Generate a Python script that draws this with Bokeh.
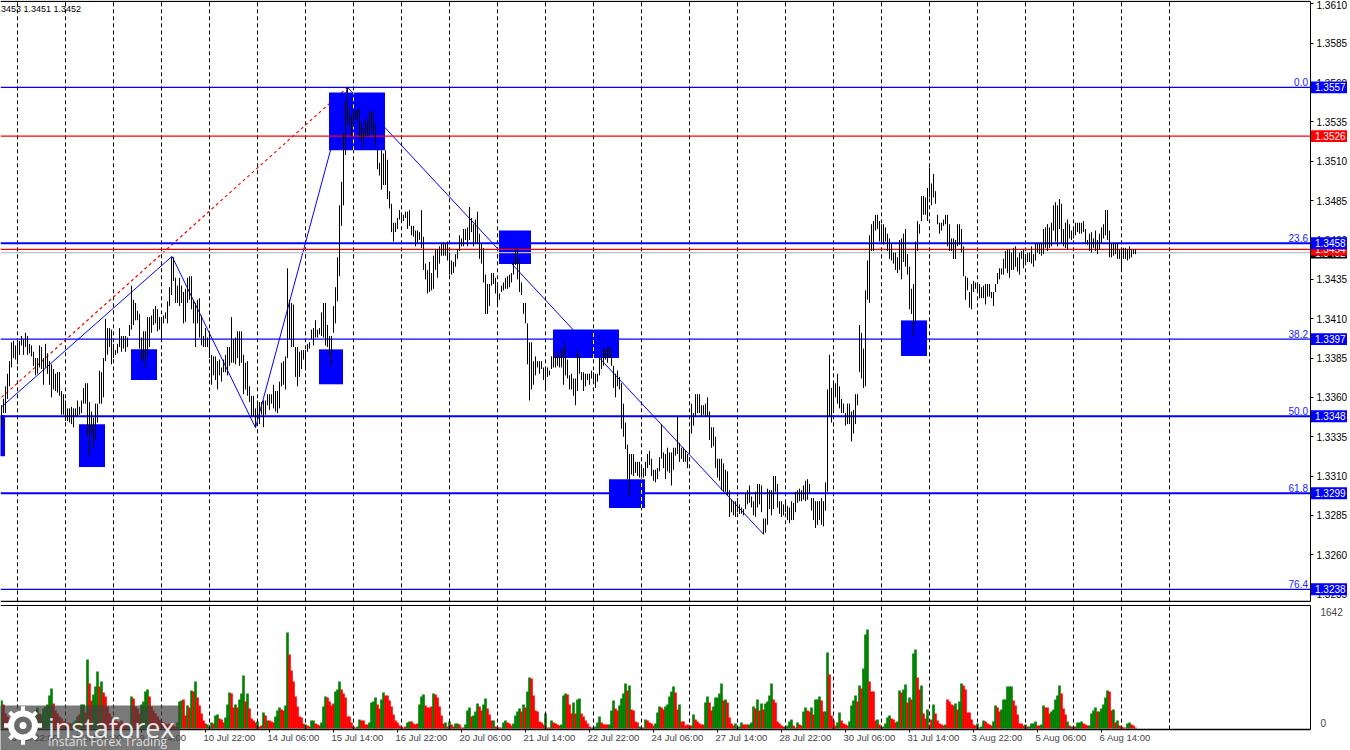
from bokeh.plotting import figure
from bokeh.layouts import column
from bokeh.models import Range1d, LinearAxis, FixedTicker, Label
from bokeh.core.properties import value
from bokeh.embed import file_html
from bokeh.resources import INLINE

# ---- hourly bars: highs and lows in pips above 1.3000
high_pips = [
355,359,367,375,383,395,396,393,395,396,399,397,401,399,394,393,389,385,385,393,392,385,394,388,383,381,378,375,376,376,
364,362,358,353,353,354,353,353,358,354,358,366,369,369,357,351,347,356,356,377,376,385,410,404,404,403,394,390,394,404,
399,399,399,398,406,431,422,420,415,413,398,402,402,411,411,412,416,418,416,411,411,412,414,421,
430,449,449,436,431,436,431,427,429,436,437,437,422,420,422,423,412,399,404,398,401,
387,386,386,383,384,379,384,387,392,392,411,397,398,402,402,402,387,382,383,367,361,361,353,358,357,357,358,358,362,362,362,
368,364,364,370,382,383,386,442,422,420,419,392,392,389,390,390,390,394,395,403,404,409,403,404,414,420,420,406,399,399,418,430,449,
482,497,528,548,557,544,539,543,542,543,544,535,531,537,536,541,542,542,534,518,509,517,515,517,511,491,483,471,471,474,479,477,476,478,478,479,
469,469,466,466,465,479,462,445,441,446,439,450,454,454,456,458,458,458,459,452,
447,446,451,454,463,461,467,467,468,481,474,470,473,478,464,458,455,438,432,432,439,439,436,433,426,431,433,436,437,438,439,446,454,455,448,433,420,420,407,395,395,
383,386,383,383,383,379,378,379,377,386,389,386,389,386,391,391,395,384,374,375,372,372,390,388,376,376,375,375,375,377,376,375,375,386,385,391,391,392,392,391,380,375,377,373,
369,356,344,330,324,324,324,319,319,319,317,315,319,324,326,321,314,314,315,322,343,325,324,328,325,325,328,328,348,331,328,328,326,324,338,356,350,362,362,362,355,355,356,360,351,341,341,335,
321,321,321,318,314,313,301,295,294,294,296,292,290,289,299,301,304,297,294,300,305,305,304,283,283,302,301,301,310,310,305,294,294,292,293,291,290,294,293,300,301,302,301,304,307,308,305,296,296,294,294,294,296,294,306,
365,387,366,369,369,375,367,359,356,350,356,
356,351,352,362,362,406,401,391,428,447,463,470,472,476,476,472,470,470,468,464,461,458,452,452,449,460,461,464,467,451,443,429,432,459,472,470,488,488,487,493,506,496,502,491,476,471,471,473,476,476,470,461,461,460,470,470,467,456,437,436,427,432,434,433,432,432,430,431,432,432,432,427,427,432,439,442,442,448,453,454,454,452,455,456,449,452,453,454,451,452,452,456,451,458,458,458,458,467,468,470,468,471,482,484,482,486,483,467,471,473,470,466,467,471,471,471,471,472,467,460,464,465,461,466,460,464,468,470,479,479,466,458,458,458,458,454,455,455,455,454,456,454,454,454]
low_pips = [
341,350,350,359,367,379,385,384,381,387,393,387,392,387,388,386,380,374,375,379,378,368,379,375,368,360,365,364,363,361,
349,349,345,345,344,343,341,348,348,349,350,356,356,336,322,337,328,333,344,356,356,360,383,387,392,381,385,387,388,392,
389,391,389,392,399,403,406,409,409,391,383,384,379,385,392,401,406,407,402,403,397,407,410,407,
418,425,434,420,420,418,420,407,408,420,422,416,407,392,407,398,393,392,392,392,385,
368,374,371,365,374,370,376,376,374,380,382,382,381,385,380,382,362,365,361,357,348,348,341,347,343,349,341,349,355,352,356,
353,351,350,353,367,368,365,385,397,392,392,373,367,373,378,384,378,389,391,397,393,398,398,400,399,398,393,392,387,380,401,407,421,
437,469,482,514,533,533,526,532,536,536,526,523,519,526,526,526,529,527,519,505,501,492,495,495,486,480,465,459,465,467,473,472,472,474,467,469,
463,462,456,458,460,455,441,435,426,427,428,429,441,436,445,450,450,450,447,438,
438,439,443,448,453,456,456,460,456,460,465,456,458,458,448,445,433,413,413,418,431,432,426,419,422,427,428,429,429,430,433,438,444,435,427,425,413,407,381,358,365,
368,374,379,375,378,371,365,373,374,378,379,379,380,379,379,368,374,372,365,365,361,355,364,375,371,364,367,371,368,372,371,366,370,374,378,380,384,382,385,380,366,360,367,365,
340,335,327,308,297,311,310,312,310,309,309,309,310,315,317,310,307,306,308,313,321,315,308,313,312,304,314,323,324,319,321,319,319,315,325,337,342,348,350,350,348,349,348,348,333,328,329,315,
309,307,301,300,300,298,284,287,285,284,287,286,286,285,289,292,293,290,285,284,290,292,287,273,274,279,289,285,289,300,290,286,284,285,287,282,280,282,282,287,293,294,294,295,294,295,299,288,282,277,279,282,279,278,288,
300,348,344,350,360,356,353,350,350,342,343,
343,332,337,343,355,376,372,366,367,422,420,453,453,466,467,459,459,457,459,453,448,447,445,441,439,441,435,446,443,438,416,413,399,407,453,464,472,476,476,472,487,482,487,483,470,464,466,469,470,456,453,453,448,448,456,457,452,437,422,428,417,416,427,429,428,423,423,423,419,424,424,423,418,427,432,435,438,438,442,439,436,441,441,443,440,438,448,442,446,446,446,445,443,447,452,451,450,451,455,453,455,456,466,459,456,467,458,456,455,454,461,460,461,463,465,464,464,465,458,457,453,452,455,453,451,454,458,461,463,460,449,449,450,451,448,448,442,448,448,447,448,449,451,451]

# ---- tick volumes: positive on a rising bar, negative on a falling bar
signed_volumes = [
374,-320,-200,-160,-134,-107,-80,-67,53,-53,-40,-40,67,53,93,120,187,240,280,-200,187,267,294,320,441,534,-334,-240,-200,-160,
-134,-93,-80,-80,-67,-67,80,107,160,-187,320,320,-214,921,-601,-374,454,561,761,-561,627,-481,-427,-294,-200,-160,-134,-107,-93,-80,
-107,-67,-53,-53,40,427,-401,-294,-267,-200,320,360,494,521,-427,-294,-240,-200,-160,-120,-93,-80,-67,-53,-67,-53,-40,-27,80,360,
374,-387,-174,307,-280,507,-494,627,-414,-307,-200,-107,-67,53,-13,80,-67,174,187,-134,-120,-80,147,320,481,-467,-280,320,-280,387,467,708,-360,467,-267,-134,-107,-80,93,-27,
-40,214,-174,107,-107,-93,-80,160,240,280,-254,-240,307,1282,-988,-774,-627,-427,-294,-160,-147,-67,53,-40,-27,107,107,-67,-53,-40,80,294,427,-414,-360,-307,-334,494,521,627,
-521,-467,-414,-160,-160,-80,-27,-13,27,120,-107,-107,-53,-53,80,347,360,414,-320,-267,387,481,-441,-441,-374,-294,-187,-107,-80,-40,-27,-13,-27,80,93,-93,-67,-53,-67,320,
427,454,-307,-280,-280,-294,467,-454,-414,-294,-174,-67,80,-27,93,
-53,-27,67,67,-53,-13,-13,53,240,280,-160,174,227,334,-294,-240,320,401,-267,-187,-107,107,-27,-13,-13,-13,80,107,-80,-67,-40,67,174,227,267,-227,320,-280,494,681,-668,-441,-240,-227,-93,-80,-53,200,-13,-13,
107,-80,-67,-53,-40,53,441,467,-454,-320,-200,347,-200,387,401,-200,-160,-107,-67,-27,-13,13,27,80,160,-80,-53,-53,-53,53,240,374,-267,-240,307,401,467,601,-507,574,-254,-240,-93,-80,27,-13,-13,
120,-107,-80,-67,-40,67,214,294,-280,-254,294,320,427,494,561,-481,-254,320,-93,-93,-40,-53,-40,-40,187,-120,-93,-67,-53,-53,347,427,-347,-240,294,414,414,467,601,-374,387,-347,-147,-67,-40,67,-13,27,80,-53,-53,-53,53,80,294,-267,387,-240,334,-254,334,360,441,601,-387,-347,-93,-67,-40,-27,27,40,93,120,-40,-13,80,-53,
-40,227,280,-240,-227,280,-187,387,387,427,-374,-227,227,1015,-721,-174,-107,-40,80,214,-107,-67,-53,-40,93,307,374,441,-360,574,-534,801,1255,1322,-627,-494,-494,-107,120,-53,-13,27,67,147,174,-134,-120,-80,93,507,-481,521,587,-347,414,-387,1001,1055,-681,-521,574,-200,-134,254,-53,-120,320,-200,-107,-67,-53,-40,53,-387,-360,-320,-307,334,-254,360,601,-574,-521,-214,-214,-120,-53,-40,67,-13,27,107,-93,-67,-53,-40,93,307,-280,-227,254,387,387,561,561,561,-374,-307,-187,-67,-67,-40,53,-27,27,67,67,93,-40,-40,53,307,-280,-280,-200,227,254,387,441,574,-467,-267,-187,93,-40,27,-27,-27,80,80,93,-67,-53,-40,40,200,240,280,-227,227,267,320,414,507,-494,-240,254,-80,107,-40,-27,-13,-13,67,80,-53,-40,-13]

if not (len(high_pips) == len(low_pips) == len(signed_volumes) == 568):
    raise SystemExit(f"lengths {len(high_pips)} {len(low_pips)} {len(signed_volumes)}")

# ---- levels
fib_levels = [1.3557, 1.3458, 1.3397, 1.3348, 1.3299, 1.3238]
fib_names = ["0.0", "23.6", "38.2", "50.0", "61.8", "76.4"]
fib_widths = [1.2, 2, 1.2, 2, 2, 1.2]
red_level = 1.3526
ask_level = 1.3454
bid_level = 1.3452

# ---- wave lines: bar number, price
wave_bars = [0, 85.25, 127, 173, 381]
wave_prices = [1.33539, 1.34496, 1.33407, 1.3557, 1.3273]
fib_anchor_bars = [0, 173]
fib_anchor_prices = [1.3360, 1.3557]

# ---- blue zones: first bar, last bar, upper price, lower price
zone_first = [-1, 38.75, 64.75, 158.75, 163.75, 248.75, 275.75, 303.75, 449.75]
zone_last = [1.75, 51.75, 77.75, 170.75, 191.75, 264.75, 308.75, 321.75, 462.75]
zone_top = [1.33486, 1.33429, 1.33905, 1.33905, 1.35538, 1.34661, 1.34032, 1.33079, 1.34089]
zone_bottom = [1.33225, 1.33157, 1.33710, 1.33683, 1.35170, 1.34447, 1.33850, 1.32897, 1.33863]
# grid lines that cross a zone show up yellow there
cross_bars = [176, 296, 320]
cross_top = [1.35538, 1.34032, 1.33079]
cross_bottom = [1.35170, 1.33850, 1.32897]

# ---- axes
price_ticks = [1.3610, 1.3585, 1.3560, 1.3535, 1.3510, 1.3485, 1.3460, 1.3435, 1.3410,
               1.3385, 1.3360, 1.3335, 1.3310, 1.3285, 1.3260, 1.3235]
grid_bars = list(range(8, 585, 24))
date_tick_bars = list(range(6, 556, 32))
date_labels = ["6 Jul 22:00", "8 Jul 06:00", "9 Jul 14:00", "10 Jul 22:00", "14 Jul 06:00", "15 Jul 14:00",
               "16 Jul 22:00", "20 Jul 06:00", "21 Jul 14:00", "22 Jul 22:00", "24 Jul 06:00", "27 Jul 14:00",
               "28 Jul 22:00", "30 Jul 06:00", "31 Jul 14:00", "3 Aug 22:00", "5 Aug 06:00", "6 Aug 14:00"]
ohlc_text = "1.3453 1.3451 1.3452"

FONT = "Liberation Sans"
BLUE, RED, GREEN = "#0000ff", "#ff0000", "#008000"
XS, XAXIS, XE = -0.5, 654.5, 674.5
YS, YE = 1.32290, 1.36122
YBOT, YTOP = 1.32304, 1.36116
bars = list(range(len(high_pips)))

p1 = figure(width=1350, height=603, x_range=Range1d(XS, XE), y_range=Range1d(YS, YE),
            x_axis_type=None, y_axis_type=None, output_backend="svg", toolbar_location=None,
            min_border_left=0, min_border_right=0, min_border_top=0, min_border_bottom=0,
            background_fill_color="white", border_fill_color="white", outline_line_color=None)
p1.grid.visible = False

right = LinearAxis(fixed_location=XAXIS, bounds=(YBOT, YTOP), ticker=FixedTicker(ticks=price_ticks),
                   major_label_overrides={t: f"{t:.4f}" for t in price_ticks},
                   major_tick_out=3, major_tick_in=0, minor_tick_line_color=None, major_label_standoff=3,
                   major_label_text_font=FONT, major_label_text_font_size="10px", major_label_text_color="black",
                   axis_line_color="black")
p1.add_layout(right, "right")

p1.segment(grid_bars, [YBOT] * len(grid_bars), grid_bars, [YTOP] * len(grid_bars), line_color="black", line_width=1, line_dash="4 3")
p1.line(fib_anchor_bars, fib_anchor_prices, line_color=RED, line_width=1.2, line_dash="3 3")
p1.line(wave_bars, wave_prices, line_color=BLUE, line_width=1)
p1.segment([XS] * 6, fib_levels, [XAXIS] * 6, fib_levels, line_color=BLUE, line_width=fib_widths)
p1.quad(left=zone_first, right=zone_last, top=zone_top, bottom=zone_bottom, fill_color=BLUE, line_color=None)
p1.segment(cross_bars, cross_bottom, cross_bars, cross_top, line_color="#ffff00", line_width=1, line_dash="4 3")
p1.segment([XS], [bid_level], [XAXIS], [bid_level], line_color="#c0c0c0", line_width=1.2)
p1.segment([XS], [ask_level], [XAXIS], [ask_level], line_color=RED, line_width=1.2)
p1.segment([XS], [red_level], [XAXIS], [red_level], line_color=RED, line_width=1.2)
p1.segment(bars, [1.3 + v / 1e4 for v in low_pips], bars, [1.3 + v / 1e4 for v in high_pips], line_color="black", line_width=1)
p1.segment([XS, XS], [YBOT, YTOP], [XAXIS, XAXIS], [YBOT, YTOP], line_color="black", line_width=1.2)
p1.text([653.25] * 6, fib_levels, fib_names, text_color="#2020ff", text_align="right", text_baseline="bottom",
        y_offset=-1, text_font=value(FONT), text_font_size=value("10px"))


def price_box(price, color):
    p1.quad(left=[654.75], right=[672.75], top=[price + 0.00038], bottom=[price - 0.00038], fill_color=color,
            line_color=None, level="overlay")
    p1.text([656.75], [price], [f"{price:.4f}"], text_color="white", text_align="left", text_baseline="middle",
            text_font=value(FONT), text_font_size=value("10px"), level="overlay")


price_box(bid_level, "black")
price_box(ask_level, RED)
price_box(red_level, RED)
for lv in fib_levels:
    price_box(lv, BLUE)

p1.add_layout(Label(x=39.75, y=1.36066, text=ohlc_text, text_align="right", text_baseline="middle",
                    text_font=FONT, text_font_size="9px", text_color="black"))

# ---- volume pane
VS, VE = -294, 1669
TOP, BASE = 1642, -13
p2 = figure(width=1350, height=147, x_range=Range1d(XS, XE), y_range=Range1d(VS, VE),
            x_axis_type=None, y_axis_type=None, output_backend="svg", toolbar_location=None,
            min_border_left=0, min_border_right=0, min_border_top=0, min_border_bottom=0,
            background_fill_color="white", border_fill_color="white", outline_line_color=None)
p2.grid.visible = False

p2.vbar(x=bars, top=[abs(v) for v in signed_volumes], bottom=0, width=1.3, line_color=None,
        fill_color=[GREEN if v > 0 else RED for v in signed_volumes])
p2.segment(grid_bars, [BASE] * len(grid_bars), grid_bars, [TOP] * len(grid_bars), line_color="black", line_width=1, line_dash="4 3")
p2.segment([XS], [TOP], [XAXIS], [TOP], line_color="black", line_width=1.2)

vol_right = LinearAxis(fixed_location=XAXIS, ticker=FixedTicker(ticks=[1555, 70]), major_label_overrides={1555: "1642", 70: "0"},
                       major_tick_line_color=None, minor_tick_line_color=None, major_label_standoff=4,
                       major_label_text_font=FONT, major_label_text_font_size="10px", axis_line_color="black", bounds=(BASE, TOP))
p2.add_layout(vol_right, "right")


def text_em(s):
    w = {"J": .5, "u": .556, "l": .222, "A": .667, "g": .556, " ": .278, ":": .278}
    return sum(w.get(c, .556) for c in s)


label_centres = [round(b - 1 + text_em(s) * 9.5 / 4, 2) for b, s in zip(date_tick_bars, date_labels)]
bottom = LinearAxis(fixed_location=BASE, bounds=(XS, XAXIS), ticker=FixedTicker(ticks=label_centres, minor_ticks=date_tick_bars),
                    major_label_overrides=dict(zip(label_centres, date_labels)),
                    major_tick_line_color=None, minor_tick_out=3, minor_tick_in=0, minor_tick_line_color="black",
                    major_label_standoff=-3, major_label_text_font=FONT, major_label_text_font_size="9.5px",
                    axis_line_color="black", axis_line_width=1.5)
p2.add_layout(bottom, "below")

# ---- watermark over the corner of the volume pane
wm_text = ["instaforex", "Instant Forex Trading"]
p2.quad(left=[XS], right=[89.25], top=[307], bottom=[VS], fill_color="#404040", fill_alpha=0.7, line_color=None, level="overlay")
p2.scatter([10.75], [40], marker="asterisk", size=38, line_color="white", line_width=4, level="overlay")
p2.scatter([10.75], [40], marker="cross", size=38, line_color="white", line_width=4, level="overlay")
p2.scatter([10.75], [40], marker="circle", size=24, fill_color="#6a6a6a", line_color="white", line_width=6, level="overlay")
p2.scatter([10.75], [40], marker="circle", size=7, fill_color="white", line_color=None, level="overlay")
p2.text([23.25], [13], [wm_text[0]], text_color="white", text_alpha=0.9, text_baseline="middle", text_font=value("Open Sans"),
        text_font_size=value("27px"), level="overlay")
p2.text([23.25], [-174], [wm_text[1]], text_color="white", text_alpha=0.8, text_baseline="middle", text_font=value("Open Sans"),
        text_font_size=value("12px"), level="overlay")

page = column(p1, p2, spacing=0)
open("out.html", "w").write(file_html(page, INLINE))
